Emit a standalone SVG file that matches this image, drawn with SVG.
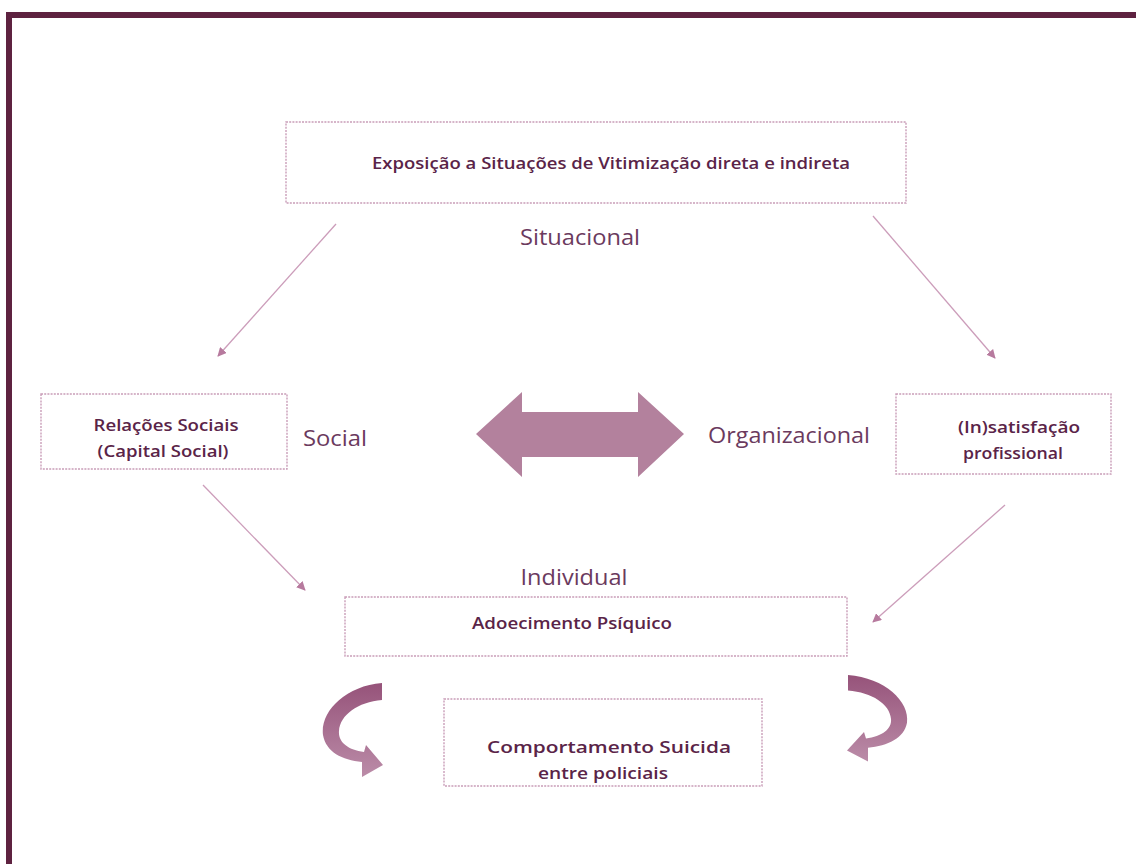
<svg xmlns="http://www.w3.org/2000/svg" width="1136" height="864" viewBox="0 0 1136 864">
<style>
.box{fill:#ffffff;stroke:#c99db8;stroke-width:1.4;stroke-dasharray:2 1.2}
.t{font-family:"Open Sans","Noto Sans","Liberation Sans",sans-serif;font-size:17px;font-weight:600;fill:#5a2448;text-anchor:middle}
.lbl{font-family:"Open Sans","Noto Sans","Liberation Sans",sans-serif;font-size:22px;fill:#6b3a5e;text-anchor:middle}
.con{stroke:#cc9dba;stroke-width:1.3;fill:none;marker-end:url(#ah)}
</style>
<defs>
<marker id="ah" viewBox="0 0 10 10" refX="9" refY="5" markerWidth="9" markerHeight="9" markerUnits="userSpaceOnUse" orient="auto">
<path d="M0,0 L10,5 L0,10 z" fill="#b77a9e"/>
</marker>
<linearGradient id="cg" x1="0" y1="0" x2="0" y2="1">
<stop offset="0" stop-color="#96537a"/>
<stop offset="1" stop-color="#bb8ca8"/>
</linearGradient>
</defs>
<rect x="0" y="0" width="1136" height="864" fill="#ffffff"/>
<g id="frame">
<rect x="6" y="12" width="1130" height="6" fill="#5e2240"/>
<rect x="6" y="12" width="6" height="852" fill="#5e2240"/>
</g>
<g id="connectors">
<line class="con" x1="336" y1="224" x2="218" y2="356"/>
<line class="con" x1="873" y1="216" x2="995" y2="358"/>
<line class="con" x1="203" y1="485" x2="305" y2="590"/>
<line class="con" x1="1005" y1="505" x2="873" y2="622"/>
<path id="double-arrow" d="M476,434 L522,392 L522,412 L638,412 L638,392 L684,434 L638,477 L638,457 L522,457 L522,477 Z" fill="#b3819d"/>
<path id="curve-left" d="M382,683 C345,686 320,712 323,735 C326,752 342,760 362,762 L362,777 L383,765 L366,745 L364,752 C348,750 338,742 339,731 C340,715 358,702 382,700 Z" fill="url(#cg)"/>
<path id="curve-right" transform="translate(1230,46.6) scale(-1,0.92)" d="M382,683 C345,686 320,712 323,735 C326,752 342,760 362,762 L362,777 L383,765 L366,745 L364,752 C348,750 338,742 339,731 C340,715 358,702 382,700 Z" fill="url(#cg)"/>
</g>
<g id="node-exposicao">
<rect class="box" x="286" y="122" width="620" height="81"/>
<text class="t" x="611" y="169" textLength="478" lengthAdjust="spacingAndGlyphs">Exposição a Situações de Vitimização direta e indireta</text>
</g>
<g id="label-situacional">
<text class="lbl" x="580" y="245" textLength="120" lengthAdjust="spacingAndGlyphs">Situacional</text>
</g>
<g id="node-relacoes">
<rect class="box" x="41" y="394" width="246" height="75"/>
<text class="t" x="166" y="431" textLength="145" lengthAdjust="spacingAndGlyphs">Relações Sociais</text>
<text class="t" x="163" y="457" textLength="131" lengthAdjust="spacingAndGlyphs">(Capital Social)</text>
</g>
<g id="label-social">
<text class="lbl" x="335" y="446" textLength="64" lengthAdjust="spacingAndGlyphs">Social</text>
</g>
<g id="label-organizacional">
<text class="lbl" x="789" y="443" textLength="162" lengthAdjust="spacingAndGlyphs">Organizacional</text>
</g>
<g id="node-insatisfacao">
<rect class="box" x="896" y="394" width="215" height="80"/>
<text class="t" x="1019" y="433" textLength="122" lengthAdjust="spacingAndGlyphs">(In)satisfação</text>
<text class="t" x="1013" y="459" textLength="100" lengthAdjust="spacingAndGlyphs">profissional</text>
</g>
<g id="label-individual">
<text class="lbl" x="574" y="585" textLength="107" lengthAdjust="spacingAndGlyphs">Individual</text>
</g>
<g id="node-adoecimento">
<rect class="box" x="345" y="597" width="502" height="59"/>
<text class="t" x="572" y="629" textLength="200" lengthAdjust="spacingAndGlyphs">Adoecimento Psíquico</text>
</g>
<g id="node-comportamento">
<rect class="box" x="444" y="699" width="318" height="87"/>
<text class="t" x="609" y="753" textLength="244" lengthAdjust="spacingAndGlyphs">Comportamento Suicida</text>
<text class="t" x="603" y="779" textLength="130" lengthAdjust="spacingAndGlyphs">entre policiais</text>
</g>
</svg>
